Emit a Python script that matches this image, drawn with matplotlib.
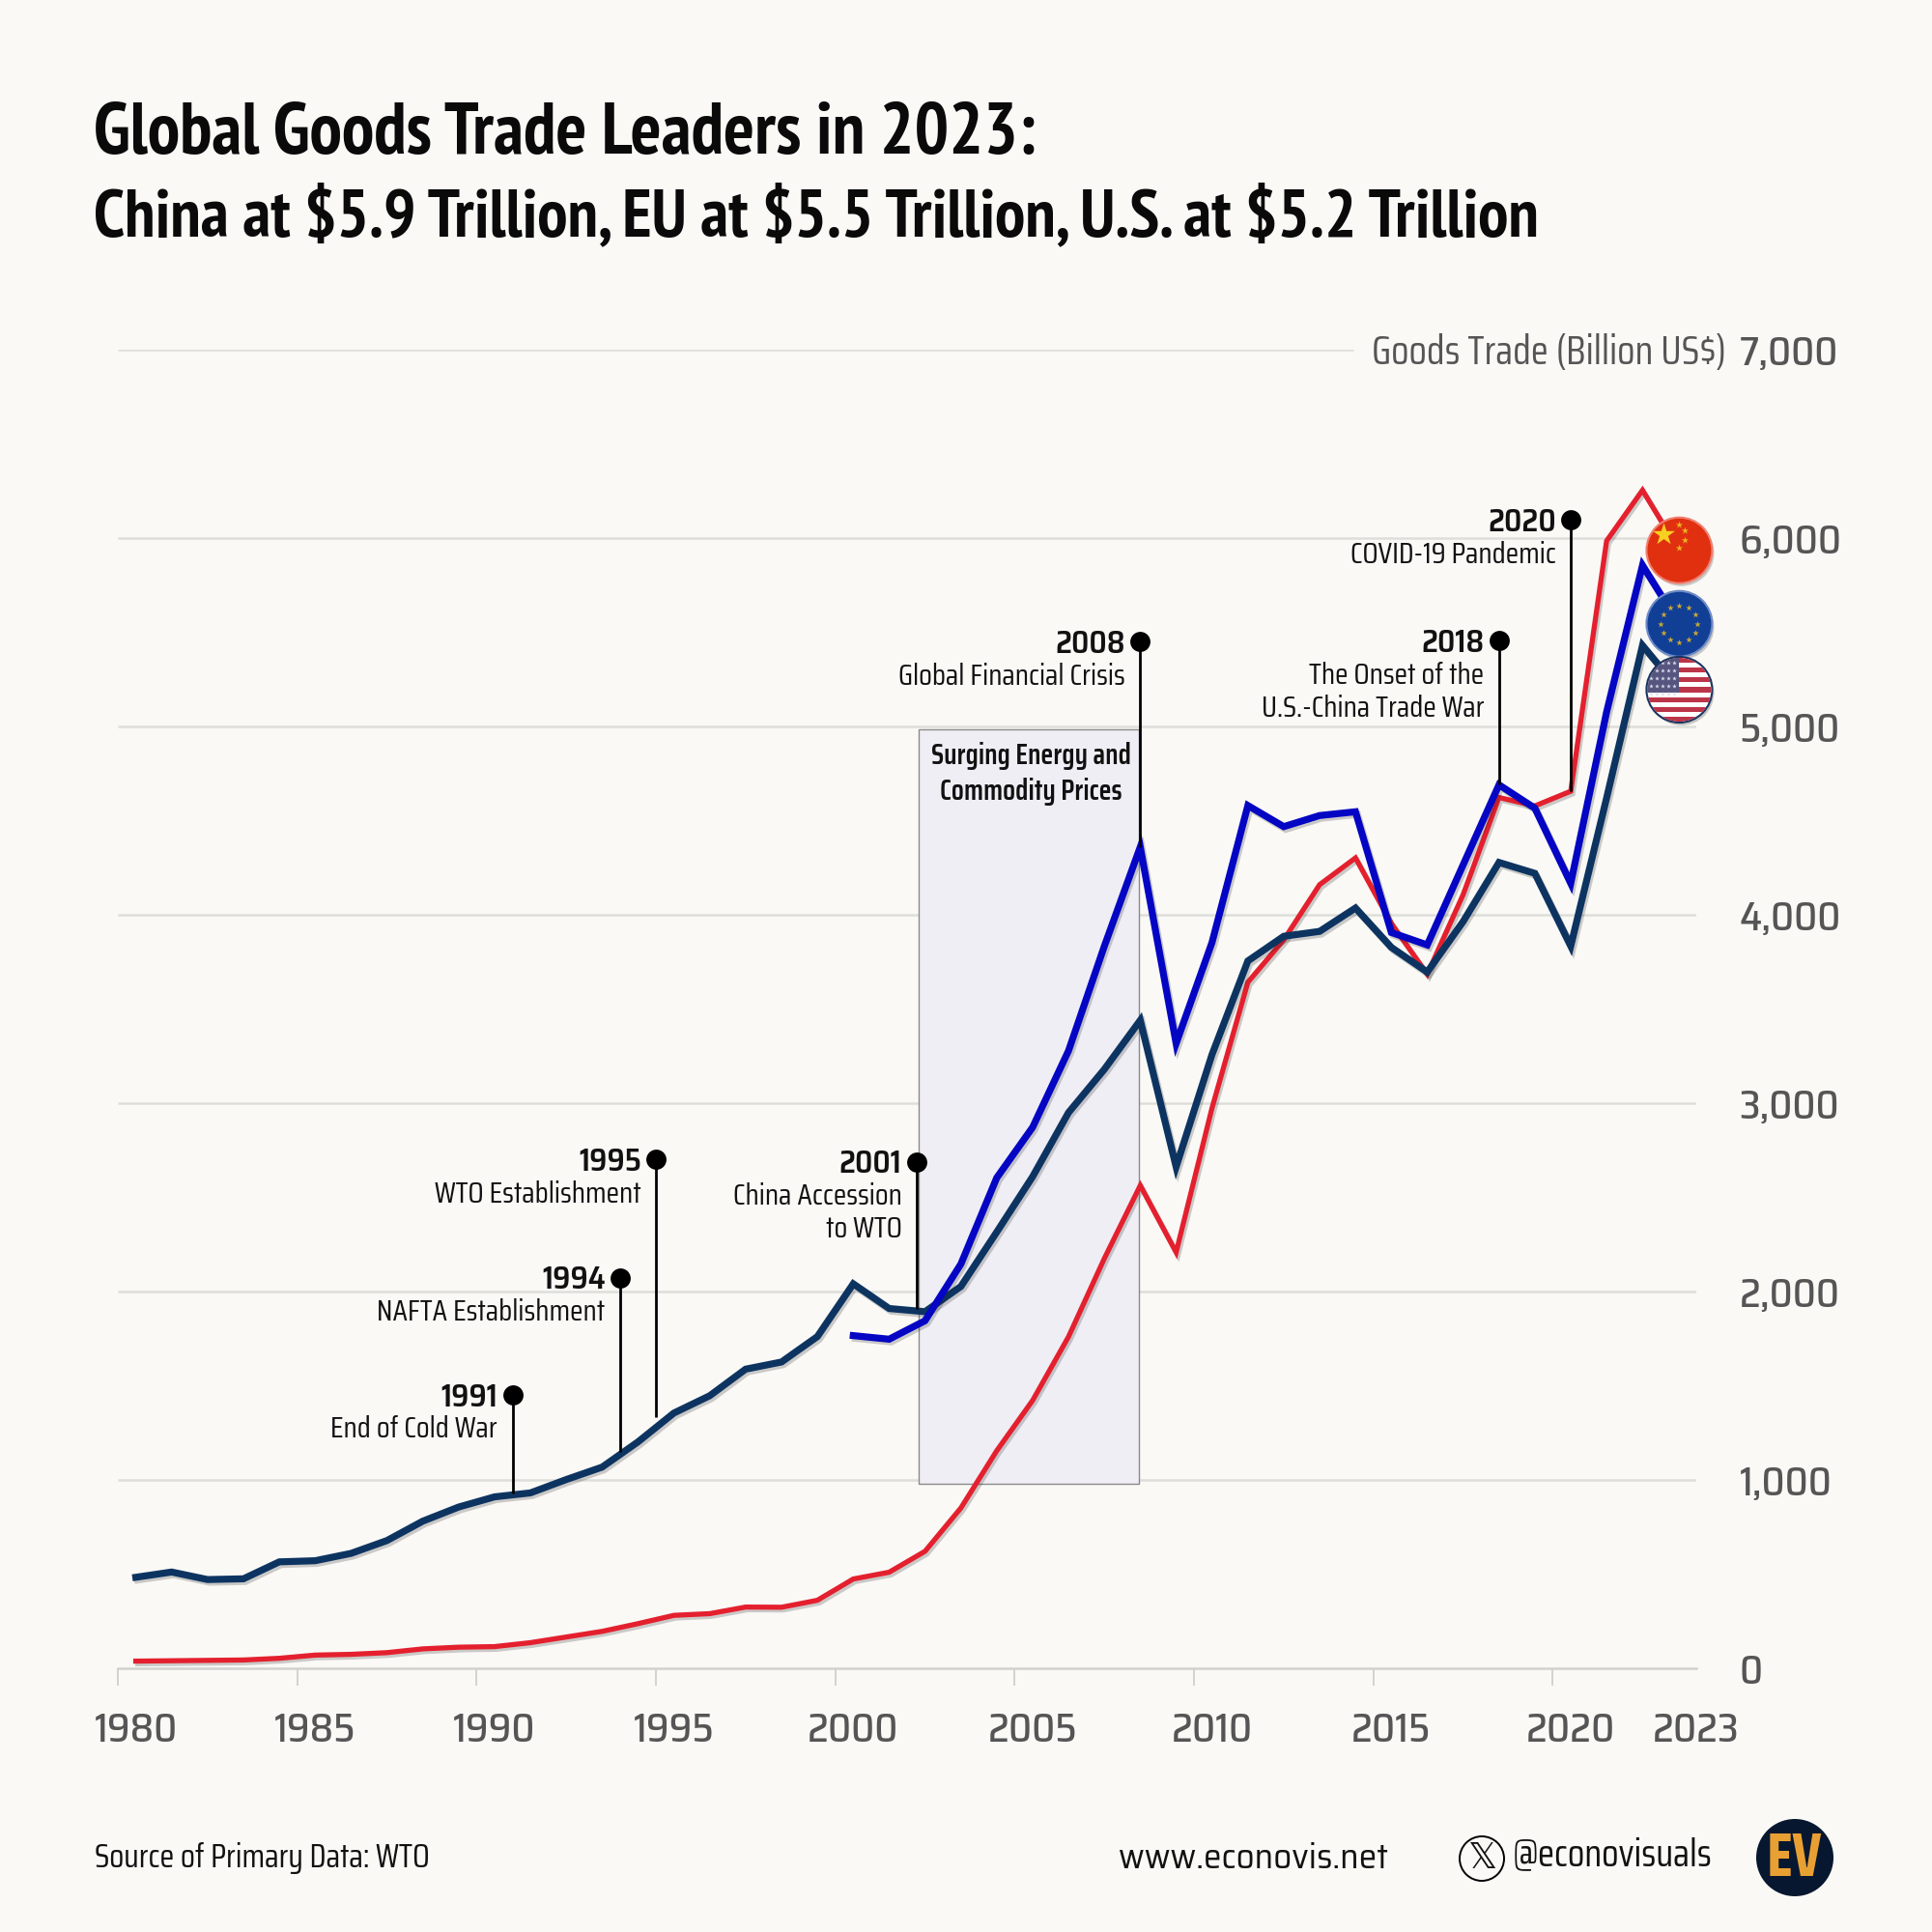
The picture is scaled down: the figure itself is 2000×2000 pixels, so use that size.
import matplotlib
matplotlib.use("Agg")
import matplotlib.pyplot as plt
import matplotlib.patheffects as pe
from matplotlib.patches import Circle, Rectangle

TITLE_FONT = ["PT Sans Narrow", "Roboto", "DejaVu Sans"]
BODY_FONT = ["Saira Condensed", "Roboto", "DejaVu Sans"]
TICK_FONT = ["Saira SemiCondensed", "Saira Condensed", "Roboto", "DejaVu Sans"]
plt.rcParams["font.family"] = BODY_FONT

BG = "#FAF9F6"
GREY = "#555555"
GRID = "#DEDEDA"

years = list(range(1980, 2024))
china = [38, 40, 42, 44, 53, 70, 74, 83, 103, 112, 115, 136, 166, 196, 237, 281, 290, 325, 324, 361,
         474, 510, 621, 851, 1155, 1422, 1760, 2176, 2563, 2208, 2974, 3642, 3867, 4160, 4302, 3954,
         3685, 4107, 4623, 4578, 4656, 5985, 6254, 5940]
usa = [483, 511, 471, 475, 565, 571, 610, 678, 781, 856, 910, 931, 1002, 1068, 1202, 1355, 1447, 1588,
       1626, 1761, 2041, 1910, 1893, 2027, 2316, 2610, 2950, 3180, 3440, 2662, 3258, 3755, 3886, 3912,
       4036, 3827, 3696, 3964, 4278, 4220, 3834, 4620, 5430, 5200]
eu_years = list(range(2000, 2024))
eu = [1766, 1747, 1845, 2146, 2604, 2872, 3278, 3834, 4360, 3317, 3853, 4580, 4468, 4527, 4547, 3906,
      3840, 4265, 4690, 4566, 4167, 5077, 5855, 5550]

y_ticks = [0, 1000, 2000, 3000, 4000, 5000, 6000, 7000]
x_ticks = [1980, 1985, 1990, 1995, 2000, 2005, 2010, 2015, 2020]

# position on the year axis, dot height, where the stem meets the line, labels
event_x = [1991.0, 1994.0, 1995.0, 2002.26, 2008.5, 2018.5, 2020.5]
event_top = [1452, 2074, 2702, 2689, 5450, 5456, 6097]
event_bottom = [929, 1151, 1335, 1910, 4360, 4690, 4656]
event_year = ["1991", "1994", "1995", "2001", "2008", "2018", "2020"]
event_text = [
    ["End of Cold War"],
    ["NAFTA Establishment"],
    ["WTO Establishment"],
    ["China Accession", "to WTO"],
    ["Global Financial Crisis"],
    ["The Onset of the", "U.S.-China Trade War"],
    ["COVID-19 Pandemic"],
]


def shadow():
    return [pe.SimpleLineShadow(offset=(1.5, -2), alpha=0.22, shadow_color="#222222"), pe.Normal()]


def flag_base(ov, cx, cy, r, face, edge):
    ov.add_patch(Circle((cx + 2, cy + 3), r + 1, fc="#333333", ec="none", alpha=0.25, zorder=5))
    ov.add_patch(Circle((cx, cy), r + 1, fc=face, ec=edge, lw=1.5, zorder=6))


def draw_china(ov, cx, cy, r):
    flag_base(ov, cx, cy, r, "#E03010", "#F08070")
    ov.scatter([cx - 16], [cy - 17], s=300, marker="*", color="#F8D020", lw=0, zorder=7)
    ov.scatter([cx, cx + 6, cx + 6, cx], [cy - 27, cy - 21, cy - 11, cy - 3], s=30, marker="*",
               color="#F0B020", lw=0, zorder=7)


def draw_eu(ov, cx, cy, r):
    flag_base(ov, cx, cy, r, "#123F96", "#6F8CC8")
    dx = [0, 9.5, 16.5, 19, 16.5, 9.5, 0, -9.5, -16.5, -19, -16.5, -9.5]
    dy = [-19, -16.5, -9.5, 0, 9.5, 16.5, 19, 16.5, 9.5, 0, -9.5, -16.5]
    ov.scatter([cx + a for a in dx], [cy + b for b in dy], s=24, marker="*", color="#C8A838", lw=0, zorder=7)


def draw_usa(ov, cx, cy, r):
    clip = Circle((cx, cy), r, transform=ov.transData)
    flag_base(ov, cx, cy, r, "white", "#1C3560")
    h = 2 * r / 13
    for i in range(0, 13, 2):
        s = Rectangle((cx - r, cy - r + i * h), 2 * r, h, fc="#BC3448", lw=0, zorder=7)
        ov.add_patch(s)
        s.set_clip_path(clip)
    canton = Rectangle((cx - r, cy - r), r * 1.0, h * 7, fc="#55557F", lw=0, zorder=8)
    ov.add_patch(canton)
    canton.set_clip_path(clip)
    xs = [cx - r + 4 + 6 * i for i in range(5) for j in range(5)]
    ys = [cy - r + 5 + 8 * j for i in range(5) for j in range(5)]
    sc = ov.scatter(xs, ys, s=12, marker="*", color="#DDDDEE", lw=0, zorder=9)
    sc.set_clip_path(clip)


fig = plt.figure(figsize=(20, 20), dpi=100, facecolor=BG)
ax = fig.add_axes([122 / 2000, 1 - 1727 / 2000, (1756 - 122) / 2000, (1727 - 362) / 2000], facecolor=BG)
ax.set_xlim(1980, 2024)
ax.set_ylim(0, 7000)

# grid, the top line stops short of the axis title
ax.hlines(y_ticks[1:-1], 1980, 2024, color=GRID, lw=1.8, zorder=1)
ax.hlines(y_ticks[-1], 1980, 2014.44, color=GRID, lw=1.8, zorder=1)

# shaded commodity period
ax.add_patch(Rectangle((2002.33, 981), 6.12, 4004, fc="#EFEEF5", ec="#8A8A8A", lw=1, zorder=2))
ax.text(2005.45, 4750, "Surging Energy and\nCommodity Prices", ha="center", va="center", fontsize=21.5,
        fontweight="semibold", color="#111111", linespacing=1.36, zorder=3)

x_mid = [y + 0.5 for y in years]
eu_mid = [y + 0.5 for y in eu_years]
ax.plot(x_mid, china, color="#E4202E", lw=3.8, solid_joinstyle="miter", path_effects=shadow(), zorder=4)
ax.plot(x_mid, usa, color="#0D3461", lw=5.2, solid_joinstyle="miter", path_effects=shadow(), zorder=4.1)
ax.plot(eu_mid, eu, color="#0505C4", lw=5.2, solid_joinstyle="miter", path_effects=shadow(), zorder=4.2)

# events
for x, top, bottom, yr, lines in zip(event_x, event_top, event_bottom, event_year, event_text):
    ax.plot([x, x], [bottom, top], color="black", lw=2, zorder=5, solid_capstyle="butt")
    ax.plot([x], [top], "o", color="black", ms=15, mew=0, zorder=5)
    ax.annotate(yr, (x, top), xytext=(-11, -2), textcoords="offset points", ha="right", va="center",
                fontsize=23, fontweight="semibold", family=TICK_FONT, color="#111111", zorder=6)
    for i, line in enumerate(lines):
        ax.annotate(line, (x, top), xytext=(-11, -26 - 24.5 * i), textcoords="offset points", ha="right",
                    va="center", fontsize=22.5, color="#111111", zorder=6)

for side in ["top", "left", "right"]:
    ax.spines[side].set_visible(False)
ax.spines["bottom"].set_color("#D2D2CE")
ax.spines["bottom"].set_linewidth(1.8)

ax.set_xticks(x_ticks)
ax.set_xticklabels([])
ax.tick_params(axis="x", which="major", length=13, width=1.4, color="#D2D2CE")
ax.set_xticks([y + 0.5 for y in x_ticks] + [2024], [str(y) for y in x_ticks] + ["2023"], minor=True)
ax.tick_params(axis="x", which="minor", length=0, pad=32, labelsize=30, labelcolor=GREY)
for lab in ax.get_xticklabels(minor=True):
    lab.set_family(TICK_FONT)
    lab.set_fontweight("medium")

ax.yaxis.tick_right()
ax.set_yticks(y_ticks, [f"{v:,}" for v in y_ticks])
ax.tick_params(axis="y", length=0, pad=32, labelsize=30, labelcolor=GREY)
for lab in ax.get_yticklabels():
    lab.set_family(TICK_FONT)
    lab.set_fontweight("medium")

ax.text(2024.83, 6985, "Goods Trade (Billion US$)", ha="right", va="center", fontsize=30, color=GREY)

# title and footer
fig.text(97 / 2000, 1 - 140 / 2000, "Global Goods Trade Leaders in 2023:", ha="left", va="center",
         fontsize=54, fontweight="bold", family=TITLE_FONT, color="#0A0A0A")
fig.text(97 / 2000, 1 - 225 / 2000, "China at $5.9 Trillion, EU at $5.5 Trillion, U.S. at $5.2 Trillion",
         ha="left", va="center", fontsize=50.6, fontweight="bold", family=TITLE_FONT, color="#0A0A0A")
fig.text(98 / 2000, 1 - 1924 / 2000, "Source of Primary Data: WTO", ha="left", va="center", fontsize=24.7,
         color="#111111")
fig.text(1158 / 2000, 1 - 1924 / 2000, "www.econovis.net", ha="left", va="center", fontsize=26.7,
         family=TICK_FONT, color="#111111")
fig.text(1566 / 2000, 1 - 1920 / 2000, "@econovisuals", ha="left", va="center", fontsize=28.5,
         color="#111111")

# overlay in picture pixels for flags and logos
ov = fig.add_axes([0, 0, 1, 1], zorder=10)
ov.set_xlim(0, 2000)
ov.set_ylim(2000, 0)
ov.axis("off")
ov.patch.set_alpha(0)


def flag_center(year, value):
    px, py = ax.transData.transform((year + 0.5, value))
    return px, 2000 - py


for draw, series in [(draw_china, china), (draw_eu, eu), (draw_usa, usa)]:
    cx, cy = flag_center(years[-1], series[-1])
    draw(ov, cx + 1, cy + 1, 33)

ov.add_patch(Circle((1534, 1924), 23, fc="none", ec="black", lw=1.4))
ov.text(1534, 1924, "\U0001D54F", ha="center", va="center", fontsize=27, family="DejaVu Sans", color="#111111")
ov.add_patch(Circle((1858, 1923), 40, fc="#07172F", ec="none"))
ov.text(1858, 1925, "EV", ha="center", va="center", fontsize=46, fontweight="bold", family=BODY_FONT,
        color="#E9A032")

fig.savefig("out.png", dpi=100, facecolor=BG)
